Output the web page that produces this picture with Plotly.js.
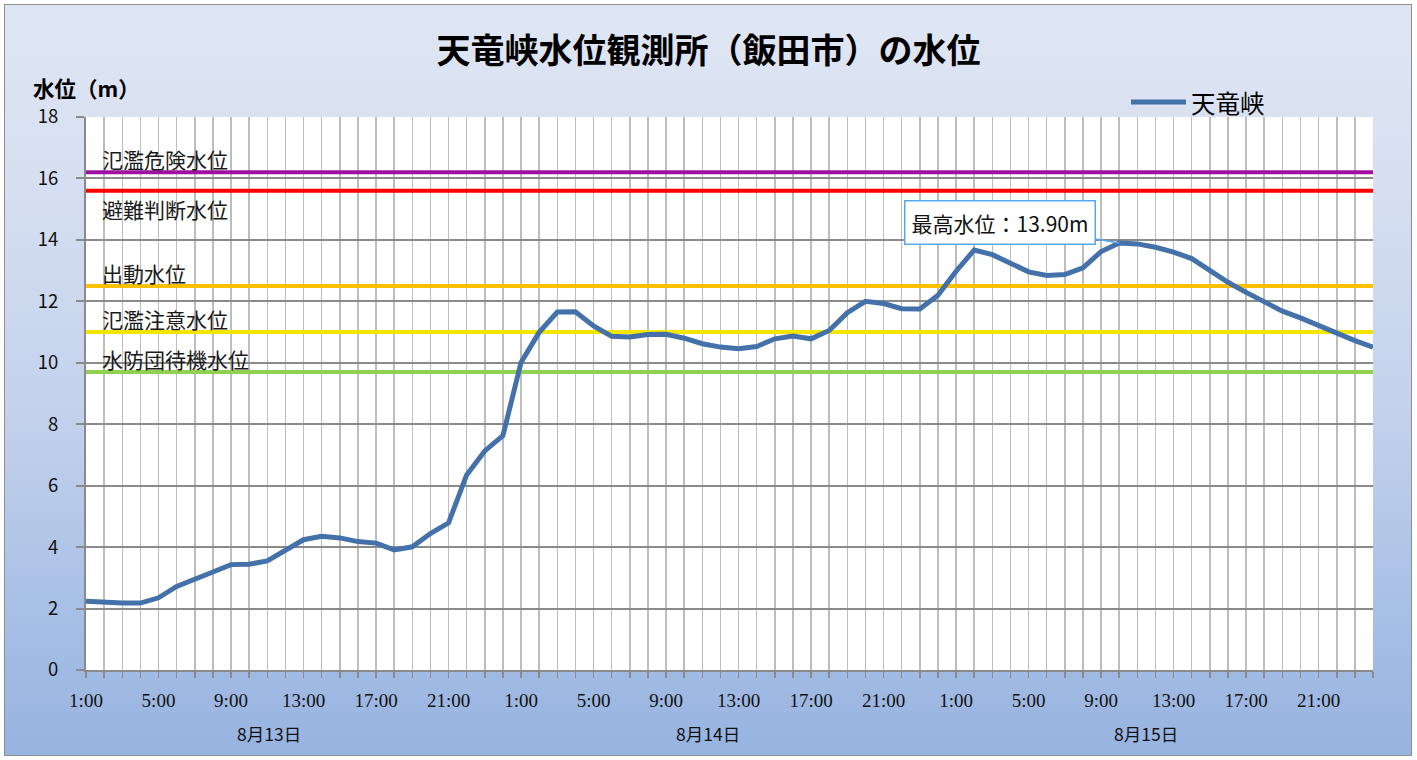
<!DOCTYPE html>
<html>
<head>
<meta charset="utf-8">
<script src="https://cdn.plot.ly/plotly-3.0.1.min.js"></script>
<style>
  html, body { margin: 0; padding: 0; background: #ffffff; }
  #frame {
    position: absolute; left: 4px; top: 4px; width: 1406px; height: 750px;
    border: 1.5px solid #8f8f8f;
    background: linear-gradient(to bottom, #dfe6f3 0%, #d6dff1 25%, #c3d1ec 55%, #a9c0e6 80%, #97b3e0 100%);
  }
  #chart { position: absolute; left: 0; top: 0; width: 1417px; height: 760px; }
</style>
</head>
<body>
<div id="frame"></div>
<div id="chart"></div>
<script>
// ---- data ----
const days = ["8月13日", "8月14日", "8月15日"];
const hoursPerDay = ["1:00","2:00","3:00","4:00","5:00","6:00","7:00","8:00","9:00","10:00","11:00","12:00",
                     "13:00","14:00","15:00","16:00","17:00","18:00","19:00","20:00","21:00","22:00","23:00","24:00"];
const seriesName = "天竜峡";
const waterLevel = [
  2.24, 2.20, 2.18, 2.18, 2.35, 2.72, 2.94, 3.19, 3.43, 3.44, 3.55, 3.89,
  4.24, 4.35, 4.30, 4.18, 4.13, 3.91, 4.01, 4.44, 4.79, 6.35, 7.13, 7.63,
  10.01, 10.99, 11.65, 11.66, 11.20, 10.86, 10.84, 10.92, 10.93, 10.80, 10.62, 10.51,
  10.46, 10.53, 10.78, 10.87, 10.78, 11.05, 11.63, 12.00, 11.93, 11.76, 11.75, 12.20,
  12.98, 13.67, 13.52, 13.24, 12.96, 12.84, 12.87, 13.09, 13.62, 13.90, 13.87, 13.76,
  13.60, 13.39, 13.00, 12.62, 12.29, 12.00, 11.68, 11.46, 11.21, 10.96, 10.72, 10.51
];
const thresholdNames  = ["氾濫危険水位", "避難判断水位", "出動水位", "氾濫注意水位", "水防団待機水位"];
const thresholdValues = [16.2, 15.6, 12.5, 11.0, 9.7];
const thresholdColors = ["#a010a0", "#ff0000", "#ffc000", "#f2e600", "#92d050"];
const yTicks = [0, 2, 4, 6, 8, 10, 12, 14, 16, 18];
const titleText = "天竜峡水位観測所（飯田市）の水位";
const yTitleText = "水位（m）";

// ---- build ----
const FONT = "'Noto Sans CJK JP', 'Noto Sans', sans-serif";
const categories = [];
days.forEach(d => hoursPerDay.forEach(h => categories.push(d + " " + h)));
const xIdx = categories.map((_, i) => i);
const tickText = categories.map((c, i) => (i % 4 === 0 ? c.split(" ")[1] : ""));
const lastIdx = categories.length - 1;

const traces = [];
thresholdValues.forEach((v, k) => {
  traces.push({
    x: [0, lastIdx], y: [v, v], mode: "lines", type: "scatter",
    line: { color: thresholdColors[k], width: 4 }, hoverinfo: "skip", showlegend: false
  });
});
traces.push({
  x: xIdx, y: waterLevel, mode: "lines", type: "scatter", name: seriesName,
  line: { color: "#4571aa", width: 5 }, showlegend: false
});

// max annotation
let maxI = 0;
waterLevel.forEach((v, i) => { if (v > waterLevel[maxI]) maxI = i; });

const annotations = [];
// threshold labels
thresholdNames.forEach((n, k) => {
  const below = (k === 1);
  annotations.push({
    xref: "paper", yref: "y", x: 0.0105, y: thresholdValues[k],
    xanchor: "left", yanchor: below ? "top" : "bottom",
    yshift: below ? -1 : -4,
    text: n, showarrow: false,
    font: { family: FONT, size: 21, color: "#1a1a1a" }
  });
});
// day labels
days.forEach((d, i) => {
  annotations.push({
    xref: "x", yref: "paper", x: 10.1 + i * 24.2, y: -0.114,
    xanchor: "center", yanchor: "middle", text: d, showarrow: false,
    font: { family: FONT, size: 17.5, color: "#111" }
  });
});
// y title
annotations.push({
  xref: "paper", yref: "paper", x: -0.042, y: 1.053, xanchor: "left", yanchor: "middle",
  text: yTitleText, showarrow: false, borderpad: 0,
  font: { family: FONT, size: 21.5, color: "#000", weight: "bold" }
});
// legend (manual)
annotations.push({
  xref: "paper", yref: "paper", x: (1189 - 86) / 1287, y: (670 - 102) / 553,
  xanchor: "left", yanchor: "middle", text: seriesName, showarrow: false,
  font: { family: FONT, size: 24.5, color: "#000" }
});
// max callout
annotations.push({
  xref: "x", yref: "y", x: maxI, y: waterLevel[maxI],
  text: "最高水位：" + waterLevel[maxI].toFixed(2) + "m",
  showarrow: true, arrowhead: 0, arrowwidth: 1.5, arrowcolor: "#55a8f0",
  ax: -119, ay: -20, bgcolor: "#ffffff", bordercolor: "#55a8f0", borderwidth: 1.5, borderpad: 6,
  font: { family: FONT, size: 21, color: "#111" }
});

const layout = {
  width: 1417, height: 760,
  margin: { l: 86, r: 44, t: 117, b: 90 },
  paper_bgcolor: "rgba(0,0,0,0)",
  plot_bgcolor: "#ffffff",
  title: {
    text: titleText, xref: "container", x: 0.5, y: 1 - 51 / 760, yanchor: "middle",
    font: { family: FONT, size: 34, color: "#000", weight: "bold" }
  },
  xaxis: {
    range: [0, lastIdx], tickmode: "array", tickvals: xIdx, ticktext: tickText,
    showgrid: true, gridcolor: "#bdbdbd", gridwidth: 1.5,
    showline: true, linecolor: "#8a8a8a", linewidth: 2,
    ticks: "outside", ticklen: 6, tickcolor: "#8a8a8a", tickwidth: 1.5,
    tickangle: 0, ticklabelstandoff: 6,
    tickfont: { family: "'Liberation Serif', serif", size: 19, color: "#111" },
    zeroline: false, fixedrange: true
  },
  yaxis: {
    range: [0, 18], tickmode: "array", tickvals: yTicks,
    showgrid: true, gridcolor: "#8a8a8a", gridwidth: 2,
    showline: true, linecolor: "#8a8a8a", linewidth: 2,
    ticks: "outside", ticklen: 8, tickcolor: "#8a8a8a", tickwidth: 2,
    ticklabelstandoff: 14,
    tickfont: { family: FONT, size: 18.5, color: "#111" },
    zeroline: false, fixedrange: true
  },
  shapes: [{
    type: "line", xref: "paper", yref: "paper",
    x0: (1131 - 86) / 1287, x1: (1186 - 86) / 1287,
    y0: (670 - 102) / 553, y1: (670 - 102) / 553,
    line: { color: "#4571aa", width: 5 }
  }],
  annotations: annotations,
  showlegend: false
};

Plotly.newPlot("chart", traces, layout, { displayModeBar: false, staticPlot: true });
</script>
</body>
</html>
